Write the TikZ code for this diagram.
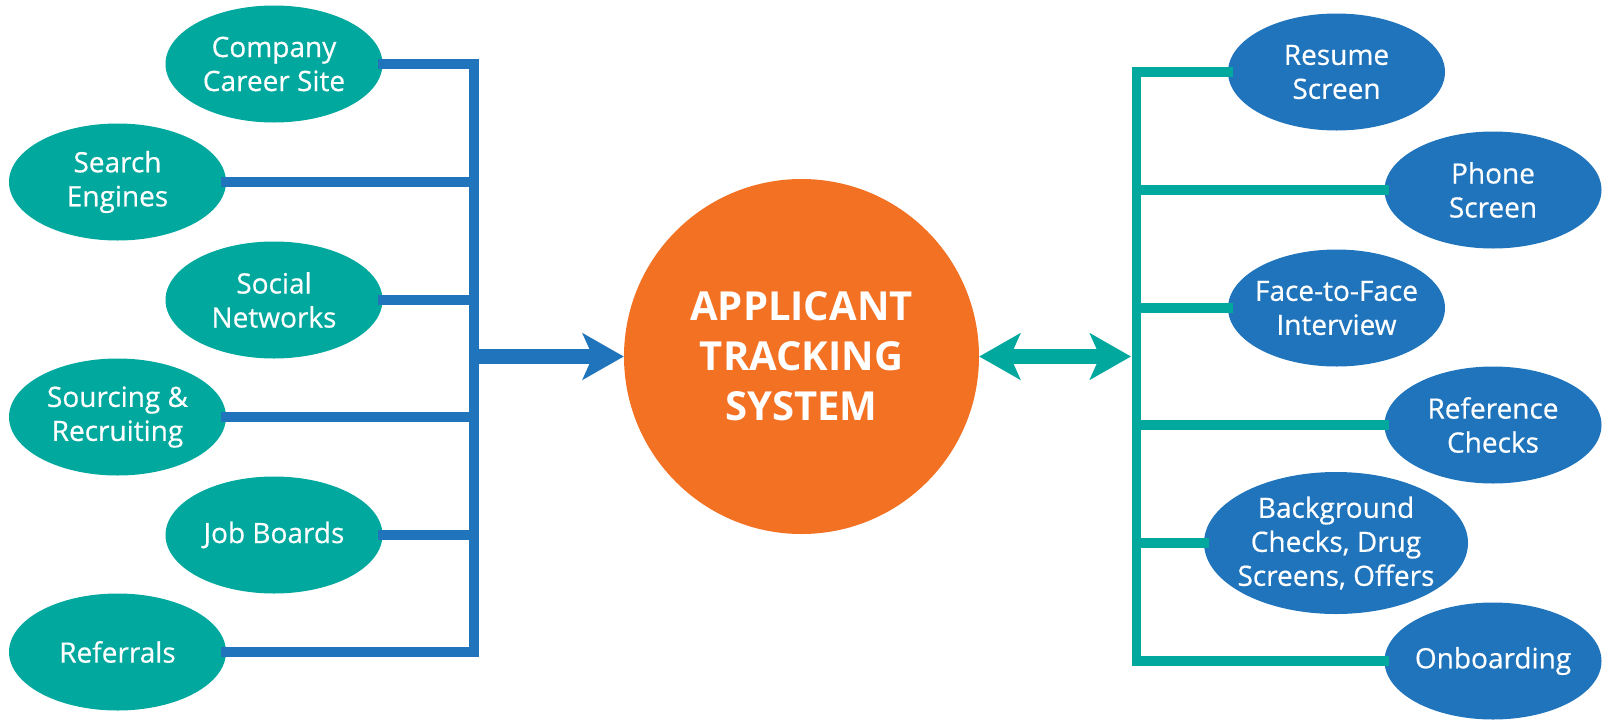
\documentclass[tikz,border=0pt]{standalone}
\usepackage{fontspec}
\setmainfont{Open Sans}
\newfontfamily\lblfont[FakeBold=0.5]{Open Sans}
\usetikzlibrary{shapes.geometric,arrows.meta}
\definecolor{tealc}{RGB}{0,168,157}
\definecolor{bluec}{RGB}{31,116,188}
\definecolor{orangec}{RGB}{243,113,35}
\tikzset{
  ell/.style={ellipse, inner sep=0pt, minimum width=217pt, minimum height=117pt},
  tealell/.style={ell, fill=tealc},
  blueell/.style={ell, fill=bluec},
  every label/.style={align=center, text=white, inner sep=0pt,
    font=\lblfont\fontsize{28}{34}\selectfont},
  bbus/.style={draw=bluec, line width=9.5pt, line join=miter, line cap=rect},
  tbus/.style={draw=tealc, line width=9.5pt, line join=miter, line cap=rect},
  bigtip/.tip={Stealth[length=41pt, width=46pt, inset=10pt]},
}
\begin{document}
\begin{tikzpicture}[x=1pt,y=-1pt]
\useasboundingbox (0,0) rectangle (1604,721);
% left ellipses
\node[tealell, label=center:{Company\\Career Site}] (cc) at (274,64) {};
\node[tealell, label=center:{Search\\Engines}] (se) at (117.5,182) {};
\node[tealell, label=center:{Social\\Networks}] (sn) at (274,300) {};
\node[tealell, label=center:{Sourcing \&\\Recruiting}] (sr) at (117.5,417) {};
\node[tealell, label=center:{Job Boards}] (jb) at (274,535) {};
\node[tealell, label=center:{Referrals}] (rf) at (117.5,652) {};
% centre
\node[circle, fill=orangec, minimum size=355pt, inner sep=0pt, align=center,
  text=white, font=\bfseries\fontsize{40}{50}\selectfont] (ats) at (801.5,356.5)
  {APPLICANT\\TRACKING\\SYSTEM};
% right ellipses
\node[blueell, label=center:{Resume\\Screen}] (rs) at (1336.5,72) {};
\node[blueell, label=center:{Phone\\Screen}] (ps) at (1493,190) {};
\node[blueell, label=center:{Face-to-Face\\Interview}] (ff) at (1336.5,308) {};
\node[blueell, label=center:{Reference\\Checks}] (rc) at (1493,425) {};
\node[blueell, minimum width=264pt, minimum height=142pt,
  label=center:{Background\\Checks, Drug\\Screens, Offers}] (bc) at (1336,543) {};
\node[blueell, label=center:{Onboarding}] (ob) at (1493,661) {};
% buses
\coordinate (lbus) at (474,356.5);
\coordinate (rbus) at (1136.5,356.5);
\coordinate (rin) at (1131,356.5);
\draw[bbus] (cc.east) -| (rf.east -| lbus) -- (rf.east);
\foreach \n in {se,sn,sr,jb} \draw[bbus] (\n.east) -- (\n.east -| lbus);
\draw[tbus] (rs.west) -| (ob.west -| rbus) -- (ob.west);
\foreach \n in {ps,ff,rc,bc} \draw[tbus] (\n.west) -- (\n.west -| rbus);
% arrows
\draw[draw=bluec, line width=15pt, -bigtip] (lbus) -- (ats.west);
\draw[draw=tealc, line width=15pt, bigtip-bigtip] (ats.east) -- (rin);
\end{tikzpicture}
\end{document}
